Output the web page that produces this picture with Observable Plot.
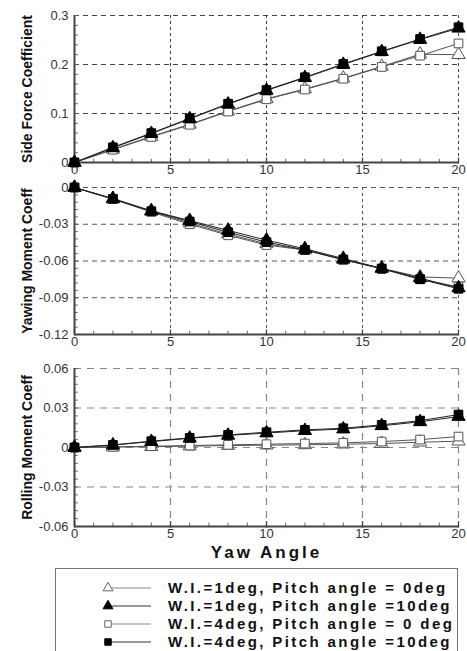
<!DOCTYPE html>
<html><head><meta charset="utf-8">
<script src="https://cdn.jsdelivr.net/npm/d3@7"></script>
<script src="https://cdn.jsdelivr.net/npm/@observablehq/plot@0.6"></script>
<style>
body{margin:0;background:#fff;font-family:"Liberation Sans",Arial,Helvetica,sans-serif;}
#wrap{position:relative;width:467px;height:651px;overflow:hidden;background:#fff;}
#wrap > svg{display:block;position:absolute;left:0;}
#legend{position:absolute;left:55px;top:568px;width:403px;height:100px;border:1px solid #777;box-sizing:border-box;}
.row{position:absolute;left:0;height:18px;display:flex;align-items:center;}
.row svg{position:absolute;left:45px;top:0;}
.row span{position:absolute;left:112px;white-space:nowrap;font-weight:bold;font-size:15px;letter-spacing:2.4px;color:#111;line-height:18px;top:0;}
.xlab{letter-spacing:3px;}
</style></head><body>
<div id="wrap"></div>
<script>
// ---- data ----
const yawAngle = [0, 2, 4, 6, 8, 10, 12, 14, 16, 18, 20];
const xTicks = [0, 5, 10, 15, 20];

const seriesNames = [
  "W.I.=1deg, Pitch angle = 0deg",
  "W.I.=1deg, Pitch angle =10deg",
  "W.I.=4deg, Pitch angle = 0 deg",
  "W.I.=4deg, Pitch angle =10deg"
];
const seriesSymbols = ["triangle", "triangle", "square", "square"];
const seriesFilled = [false, true, false, true];

// Side force coefficient
const sideWI1P0  = [0, 0.027, 0.053, 0.078, 0.105, 0.130, 0.150, 0.172, 0.196, 0.221, 0.220];
const sideWI1P10 = [0, 0.030, 0.059, 0.089, 0.119, 0.147, 0.173, 0.200, 0.226, 0.251, 0.274];
const sideWI4P0  = [0, 0.026, 0.052, 0.077, 0.104, 0.129, 0.149, 0.171, 0.195, 0.218, 0.243];
const sideWI4P10 = [0, 0.031, 0.060, 0.090, 0.120, 0.148, 0.174, 0.201, 0.227, 0.252, 0.276];
const sideTicks = [0, 0.1, 0.2, 0.3];

// Yawing moment coefficient
const yawWI1P0  = [0, -0.0095, -0.0195, -0.029, -0.038, -0.046, -0.051, -0.059, -0.066, -0.073, -0.074];
const yawWI1P10 = [0, -0.009, -0.019, -0.027, -0.035, -0.043, -0.050, -0.058, -0.066, -0.074, -0.082];
const yawWI4P0  = [0, -0.0095, -0.020, -0.030, -0.039, -0.047, -0.051, -0.059, -0.066, -0.075, -0.081];
const yawWI4P10 = [0, -0.0092, -0.0193, -0.0278, -0.0365, -0.0446, -0.0509, -0.0588, -0.0664, -0.0748, -0.0827];
const yawTicks = [-0.12, -0.09, -0.06, -0.03, 0];

// Rolling moment coefficient
const rollWI1P0  = [0, 0.0003, 0.0006, 0.001, 0.0015, 0.0018, 0.002, 0.0025, 0.003, 0.004, 0.0048];
const rollWI1P10 = [0, 0.0018, 0.0045, 0.007, 0.0092, 0.011, 0.0128, 0.014, 0.0165, 0.0195, 0.0235];
const rollWI4P0  = [0, 0.0005, 0.001, 0.0015, 0.002, 0.0025, 0.003, 0.0035, 0.0045, 0.006, 0.0083];
const rollWI4P10 = [0, 0.002, 0.0048, 0.0073, 0.0096, 0.0116, 0.0134, 0.0146, 0.0172, 0.0204, 0.025];
const rollTicks = [-0.06, -0.03, 0, 0.03, 0.06];

// ---- helpers ----
const FONT = '"Liberation Sans", Arial, Helvetica, sans-serif';

function longRows(arrays) {
  const rows = [];
  arrays.forEach((vals, s) => vals.forEach((v, i) => rows.push({s, x: yawAngle[i], y: v})));
  return rows;
}

function fmt(v) {
  if (v === 0) return "0";
  return String(+v.toFixed(2));
}

function panel({arrays, domain, ticks, minorStep, label, top, height, marginTop, marginBottom, grid, xLabel}) {
  const rows = longRows(arrays);
  const [y0, y1] = domain;
  const minor = d3.range(Math.round((y1 - y0) / minorStep) + 1).map(i => y0 + i * minorStep);
  const minorX = d3.range(0, 21, 1);
  const tickLen = (y1 - y0) * 0.022;
  const order = [0, 2, 1, 3];
  const marks = [
    Plot.ruleY(ticks.filter(t => t !== y0), {stroke: grid.color, strokeWidth: grid.w, strokeDasharray: grid.h}),
    Plot.ruleX(xTicks.filter(t => t !== 0), {stroke: grid.color, strokeWidth: grid.w, strokeDasharray: grid.v}),
    Plot.ruleY(minor, {x1: 0, x2: 0.2, stroke: "#666", strokeWidth: 1}),
    Plot.ruleX(minorX, {y1: y0, y2: y0 + tickLen, stroke: "#666", strokeWidth: 1}),
    Plot.ruleX(xTicks, {y1: y0 - tickLen * 0.5, y2: y0 + tickLen * 1.4, stroke: "#444", strokeWidth: 1.3}),
    Plot.ruleX([0], {stroke: "#444", strokeWidth: 2}),
    Plot.ruleY([y0], {stroke: "#444", strokeWidth: 2}),
    Plot.axisY(ticks, {tickSize: 0, tickPadding: 6, tickFormat: fmt, label: null, fontSize: 13, fill: "#333"}),
    Plot.axisX(xTicks, {tickSize: 0, tickPadding: 2, label: null, fontSize: 13, fill: "#333"}),
    Plot.text([label], {frameAnchor: "left", rotate: -90, dx: -47, textAnchor: "middle", lineAnchor: "middle",
      fontWeight: "bold", fontSize: 14, fill: "#111"})
  ];
  for (const s of order) {
    marks.push(Plot.line(rows.filter(d => d.s === s), {x: "x", y: "y", stroke: seriesFilled[s] ? "#222" : "#555", strokeWidth: 1}));
  }
  for (const s of order) {
    marks.push(Plot.dot(rows.filter(d => d.s === s), {x: "x", y: "y", symbol: () => seriesSymbols[s], r: 4.9,
      fill: seriesFilled[s] ? "#000" : "#fff", stroke: seriesFilled[s] ? "#000" : "#555", strokeWidth: 1}));
  }
  if (xLabel) {
    marks.push(Plot.text([xLabel], {frameAnchor: "bottom", dy: 26, lineAnchor: "middle", fontWeight: "bold",
      fontSize: 17, fill: "#111", className: "xlab"}));
  }
  const svg = Plot.plot({
    width: 467, height, marginLeft: 74, marginRight: 9, marginTop, marginBottom,
    x: {domain: [0, 20]},
    y: {domain},
    symbol: {type: "identity"},
    style: {fontFamily: FONT, fontSize: "13px", background: "transparent", overflow: "visible"},
    marks
  });
  svg.style.top = top + "px";
  if (xLabel) svg.querySelectorAll("text").forEach(t => { if (t.textContent === xLabel) t.setAttribute("letter-spacing", "3px"); });
  return svg;
}

const wrap = document.getElementById("wrap");
wrap.append(panel({
  arrays: [sideWI1P0, sideWI1P10, sideWI4P0, sideWI4P10],
  domain: [0, 0.3], ticks: sideTicks, minorStep: 0.02, label: "Side Force Coefficient",
  top: 0, height: 178, marginTop: 15, marginBottom: 16,
  grid: {color: "#444", w: 1, h: "5,4", v: "3,3"}
}));
wrap.append(panel({
  arrays: [yawWI1P0, yawWI1P10, yawWI4P0, yawWI4P10],
  domain: [-0.12, 0], ticks: yawTicks, minorStep: 0.006, label: "Yawing Moment Coeff",
  top: 178, height: 172, marginTop: 9, marginBottom: 16,
  grid: {color: "#555", w: 1, h: "5,4", v: "3,3"}
}));
wrap.append(panel({
  arrays: [rollWI1P0, rollWI1P10, rollWI4P0, rollWI4P10],
  domain: [-0.06, 0.06], ticks: rollTicks, minorStep: 0.006, label: "Rolling Moment Coeff",
  top: 350, height: 215, marginTop: 18, marginBottom: 39,
  grid: {color: "#888", w: 1.2, h: "7,6", v: "7,6"}, xLabel: "Yaw Angle"
}));

// ---- legend ----
const legend = document.createElement("div");
legend.id = "legend";
seriesNames.forEach((name, s) => {
  const row = document.createElement("div");
  row.className = "row";
  row.style.top = (10 + s * 18) + "px";
  const sw = d3.create("svg").attr("width", 60).attr("height", 18);
  sw.append("line").attr("x1", 7).attr("x2", 50).attr("y1", 9).attr("y2", 9)
    .attr("stroke", seriesFilled[s] ? "#333" : "#888").attr("stroke-width", 1);
  const sym = seriesSymbols[s] === "triangle" ? d3.symbolTriangle : d3.symbolSquare;
  sw.append("path").attr("transform", "translate(7,9)")
    .attr("d", d3.symbol(sym, 42)())
    .attr("fill", seriesFilled[s] ? "#000" : "#fff")
    .attr("stroke", seriesFilled[s] ? "#000" : "#666");
  row.append(sw.node());
  const t = document.createElement("span");
  t.textContent = name;
  row.append(t);
  legend.append(row);
});
wrap.append(legend);
</script>
</body></html>
